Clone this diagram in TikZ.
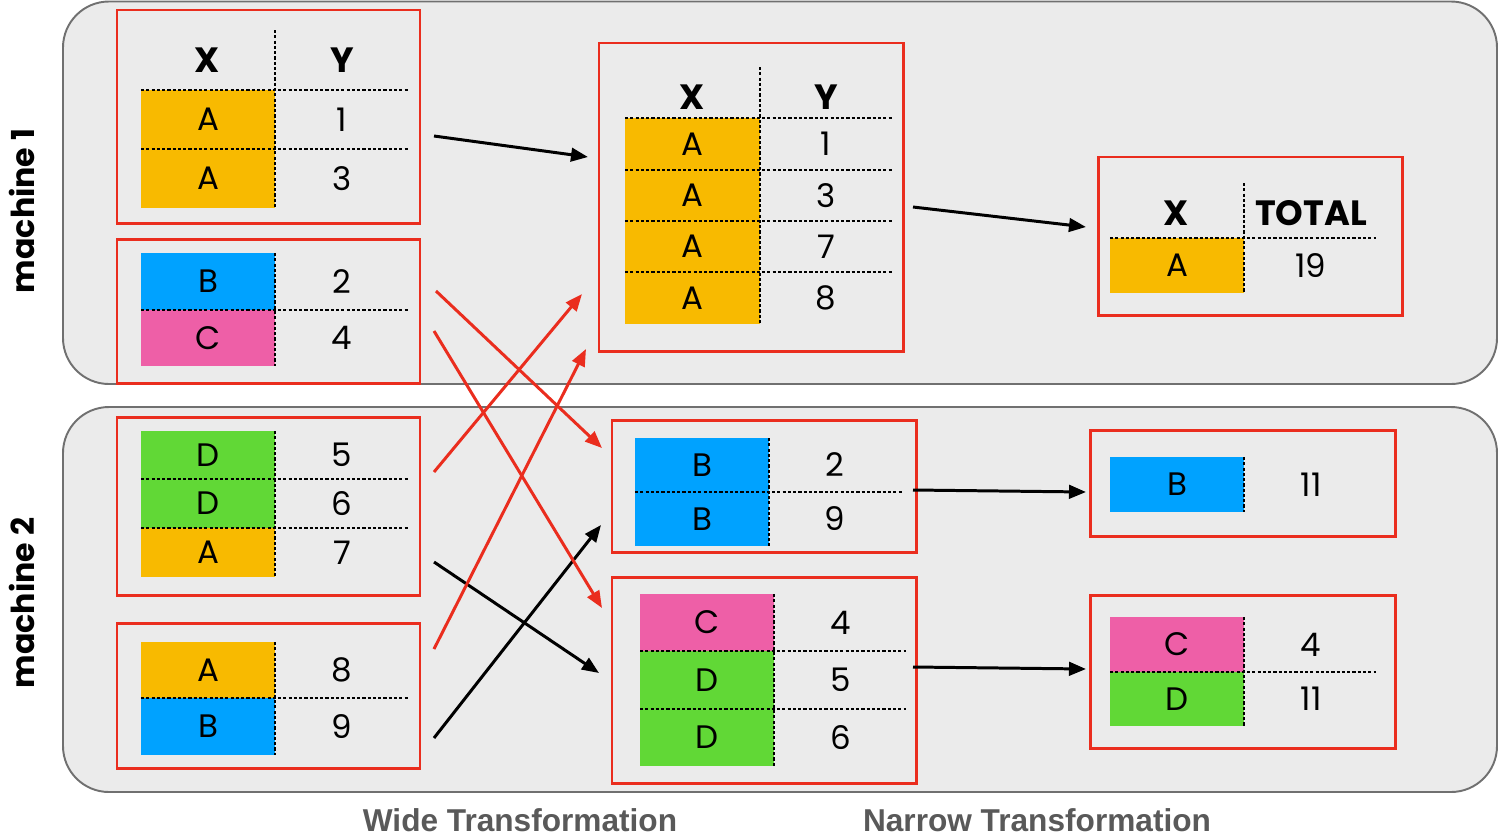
\documentclass[tikz,border=0pt]{standalone}
\usepackage{fontspec}
\setmainfont{Poppins}
\newfontfamily\captionfont{Liberation Sans}
\usetikzlibrary{arrows.meta,fit}

\definecolor{keyA}{RGB}{248,186,0}
\definecolor{keyB}{RGB}{0,162,255}
\definecolor{keyC}{RGB}{238,95,167}
\definecolor{keyD}{RGB}{97,216,54}
\definecolor{panel}{RGB}{235,235,235}
\definecolor{panelborder}{RGB}{112,112,112}
\definecolor{partred}{RGB}{234,45,30}
\definecolor{captiongray}{RGB}{89,89,89}

% one row of a partition: coloured key cell plus its value
% #1 name, #2-#5 cell corners, #6 colour, #7 key, #8 value x, #9 value
\newcommand{\kvrow}[9]{%
  \node[keycell, fill=#6, minimum width={(#4-#2)*0.02cm}, minimum height={(#5-#3)*0.02cm}]
    (#1) at ({(#2+#4)/2},{(#3+#5)/2}) {#7};
  \node[valtext] (#1v) at (#8,{(#3+#5)/2}) {#9};
}

\begin{document}
\begin{tikzpicture}[x=0.02cm, y=-0.02cm,
  machine/.style={draw=panelborder, fill=panel, line width=1.1pt, rounded corners=0.92cm, inner sep=0pt, outer sep=0pt},
  part/.style={draw=partred, line width=1.7pt, inner sep=0pt, outer sep=0pt},
  keycell/.style={inner sep=0pt, outer sep=0pt, font=\fontsize{18.5}{18.5}\selectfont},
  valtext/.style={inner sep=0pt, font=\fontsize{18.5}{18.5}\selectfont},
  head/.style={inner sep=0pt, font=\bfseries\fontsize{20}{20}\selectfont},
  dotline/.style={line width=0.8pt, dash pattern=on 1.8pt off 1.2pt},
  flow/.style={line width=1.7pt, -{Triangle[length=0.34cm,width=0.27cm]}},
  redflow/.style={flow, color=partred},
  machlabel/.style={rotate=90, font=\bfseries\fontsize{18}{18}\selectfont},
  caption/.style={text=captiongray, font=\captionfont\bfseries\fontsize{18}{18}\selectfont}
]
\useasboundingbox (0,0) rectangle (1499,836);

% machines
\node[machine, fit={(63,1.5) (1497,384)}] (mach1) {};
\node[machine, fit={(63,407) (1497,792)}] (mach2) {};
\node[machlabel] (mach1lab) at (22,211) {machine 1};
\node[machlabel] (mach2lab) at (22,603) {machine 2};

% partitions
\node[part, fit={(117,10) (420,223)}] (p1) {};
\node[part, fit={(117,239) (420,383)}] (p2) {};
\node[part, fit={(117,417) (420,595)}] (p3) {};
\node[part, fit={(117,623) (420,768)}] (p4) {};
\node[part, fit={(599,43) (903,351)}] (m1) {};
\node[part, fit={(612,420) (916,552)}] (m2) {};
\node[part, fit={(612,577) (916,783)}] (m3) {};
\node[part, fit={(1098,157) (1402,315)}] (r1) {};
\node[part, fit={(1090,430) (1395,536)}] (r2) {};
\node[part, fit={(1090,595) (1395,748)}] (r3) {};

% partition 1
\node[head] (p1hx) at (207,60) {X};
\node[head] (p1hy) at (342,60) {Y};
\kvrow{p1a}{141}{90}{275}{149}{keyA}{A}{342}{1}
\kvrow{p1b}{141}{149}{275}{208}{keyA}{A}{342}{3}
\draw[dotline] (141,90) -- (408,90);
\draw[dotline] (141,149) -- (408,149);
\draw[dotline] (275,30) -- (275,208);

% partition 2
\kvrow{p2a}{141}{253}{275}{310}{keyB}{B}{342}{2}
\kvrow{p2b}{141}{310}{275}{366}{keyC}{C}{342}{4}
\draw[dotline] (141,310) -- (408,310);
\draw[dotline] (275,253) -- (275,366);

% partition 3
\kvrow{p3a}{141}{431}{275}{479}{keyD}{D}{342}{5}
\kvrow{p3b}{141}{479}{275}{528}{keyD}{D}{342}{6}
\kvrow{p3c}{141}{528}{275}{577}{keyA}{A}{342}{7}
\draw[dotline] (141,479) -- (408,479);
\draw[dotline] (141,528) -- (408,528);
\draw[dotline] (275,431) -- (275,577);

% partition 4
\kvrow{p4a}{141}{642}{275}{698}{keyA}{A}{342}{8}
\kvrow{p4b}{141}{698}{275}{755}{keyB}{B}{342}{9}
\draw[dotline] (141,698) -- (408,698);
\draw[dotline] (275,642) -- (275,755);

% shuffled partition A
\node[head] (m1hx) at (692,97) {X};
\node[head] (m1hy) at (826,97) {Y};
\kvrow{m1a}{625}{118}{760}{170}{keyA}{A}{826}{1}
\kvrow{m1b}{625}{170}{760}{221}{keyA}{A}{826}{3}
\kvrow{m1c}{625}{221}{760}{272}{keyA}{A}{826}{7}
\kvrow{m1d}{625}{272}{760}{324}{keyA}{A}{826}{8}
\foreach \yy in {118,170,221,272} \draw[dotline] (625,\yy) -- (893,\yy);
\draw[dotline] (760,67) -- (760,324);

% shuffled partition B
\kvrow{m2a}{635}{438}{769}{492}{keyB}{B}{835}{2}
\kvrow{m2b}{635}{492}{769}{546}{keyB}{B}{835}{9}
\draw[dotline] (635,492) -- (902,492);
\draw[dotline] (769,438) -- (769,546);

% shuffled partition C, D
\kvrow{m3a}{640}{594}{774}{651}{keyC}{C}{841}{4}
\kvrow{m3b}{640}{651}{774}{709}{keyD}{D}{841}{5}
\kvrow{m3c}{640}{709}{774}{766}{keyD}{D}{841}{6}
\draw[dotline] (640,651) -- (906,651);
\draw[dotline] (640,709) -- (906,709);
\draw[dotline] (774,594) -- (774,766);

% totals
\node[head] (r1hx) at (1176,213) {X};
\node[head] (r1hy) at (1311,213) {TOTAL};
\kvrow{r1a}{1110}{238}{1244}{293}{keyA}{A}{1311}{19}
\draw[dotline] (1110,238) -- (1376,238);
\draw[dotline] (1244,183) -- (1244,293);

\kvrow{r2a}{1110}{457}{1244}{512}{keyB}{B}{1311}{11}
\draw[dotline] (1244,457) -- (1244,512);

\kvrow{r3a}{1110}{617}{1244}{672}{keyC}{C}{1311}{4}
\kvrow{r3b}{1110}{672}{1244}{726}{keyD}{D}{1311}{11}
\draw[dotline] (1110,672) -- (1376,672);
\draw[dotline] (1244,617) -- (1244,726);

% data staying on its machine
\draw[flow] ([shift={(14,126)}]p1.north east) -- ([shift={(-11,114)}]m1.north west);
\draw[flow] ([shift={(14,145)}]p3.north east) -- ([shift={(-13,96)}]m3.north west);
\draw[flow] ([shift={(14,115)}]p4.north east) -- ([shift={(-11,105)}]m2.north west);

% data crossing machines
\draw[redflow] ([shift={(16,52)}]p2.north east) -- ([shift={(-10,28)}]m2.north west);
\draw[redflow] ([shift={(14,92)}]p2.north east) -- ([shift={(-10,31)}]m3.north west);
\draw[redflow] ([shift={(14,55)}]p3.north east) -- ([shift={(-17,-57)}]m1.south west);
\draw[redflow] ([shift={(14,26)}]p4.north east) -- ([shift={(-13,-2)}]m1.south west);

% narrow steps
\draw[flow] ([shift={(10,164)}]m1.north east) -- ([shift={(-12,70)}]r1.north west);
\draw[flow] ([shift={(-3,70)}]m2.north east) -- ([shift={(-4,62)}]r2.north west);
\draw[flow] ([shift={(-3,90)}]m3.north east) -- ([shift={(-4,74)}]r3.north west);

% captions
\node[caption] (wide) at (520,820) {Wide Transformation};
\node[caption] (narrow) at (1037,820) {Narrow Transformation};
\end{tikzpicture}
\end{document}
